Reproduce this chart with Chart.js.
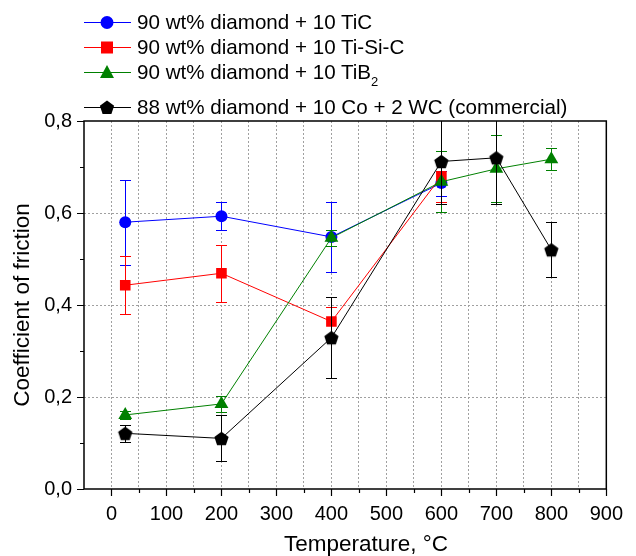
<!DOCTYPE html>
<html><head><meta charset="utf-8">
<script src="https://cdn.jsdelivr.net/npm/chart.js@4.4.1/dist/chart.umd.min.js"></script>
<style>
html,body{margin:0;padding:0;background:#fff;}
#wrap{position:relative;width:636px;height:556px;overflow:hidden;font-family:"Liberation Sans",Arial,sans-serif;}
#c{position:absolute;left:0;top:0;}
#sym{position:absolute;left:0;top:0;}
.row{position:absolute;left:137px;height:24px;line-height:24px;font-size:20.6px;color:#000;white-space:nowrap;}
.row sub{font-size:13px;vertical-align:-7px;line-height:0;}
#xtitle{position:absolute;left:166px;width:400px;top:531px;height:26px;line-height:26px;font-size:22.5px;text-align:center;color:#000;white-space:nowrap;}
</style></head>
<body><div id="wrap"><canvas id="c" width="636" height="556"></canvas><svg id="sym" width="636" height="125"></svg><div id="xtitle"></div></div>
<script>
// ---- data ----
const seriesNames = [
  '90 wt% diamond + 10 TiC',
  '90 wt% diamond + 10 Ti-Si-C',
  '90 wt% diamond + 10 TiB<sub>2</sub>',
  '88 wt% diamond + 10 Co + 2 WC (commercial)'
];
const xAxisTitle = 'Temperature, °C';
const yAxisTitle = 'Coefficient of friction';
const tempsShort = [25, 200, 400, 600];
const tempsLong = [25, 200, 400, 600, 700, 800];
const ticValues = [0.580, 0.593, 0.548, 0.665];
const ticErrors = [0.092, 0.031, 0.076, 0.027];
const tisicValues = [0.443, 0.469, 0.364, 0.680];
const tisicErrors = [0.063, 0.062, 0.032, 0.055];
const tib2Values = [0.161, 0.185, 0.546, 0.668, 0.696, 0.717];
const tib2Errors = [0.008, 0.017, 0.018, 0.066, 0.073, 0.024];
const commValues = [0.121, 0.110, 0.329, 0.712, 0.720, 0.520];
const commErrors = [0.019, 0.050, 0.088, 0.092, 0.100, 0.060];
const xTickLabels = ['0','100','200','300','400','500','600','700','800','900'];
const yTickLabels = ['0,0','0,2','0,4','0,6','0,8'];

const FONT = '"Liberation Sans", Arial, sans-serif';
const colors = ['#0000ff', '#ff0000', '#008000', '#000000'];

function pentagonCanvas(r, color) {
  const s = Math.ceil(2 * r + 2);
  const c = document.createElement('canvas');
  c.width = s; c.height = s;
  const g = c.getContext('2d');
  g.fillStyle = color;
  g.beginPath();
  const cx = s / 2, cy = s / 2 + r * 0.1;
  for (let i = 0; i < 5; i++) {
    const a = -Math.PI / 2 + i * 2 * Math.PI / 5;
    const px = cx + r * Math.cos(a), py = cy + r * Math.sin(a);
    if (i) g.lineTo(px, py); else g.moveTo(px, py);
  }
  g.closePath(); g.fill();
  return c;
}
const pent = pentagonCanvas(7.5, '#000');

function pts(xs, ys) { return xs.map((x, i) => ({x: x, y: ys[i]})); }

function mk(label, xs, ys, errs, color, style, radius, order) {
  return {
    label: label, data: pts(xs, ys), errors: errs,
    borderColor: color, backgroundColor: color, borderWidth: 1,
    pointStyle: style, pointRadius: radius, pointHoverRadius: radius,
    pointBackgroundColor: color, pointBorderColor: color, pointBorderWidth: 0,
    tension: 0, fill: false, order: order
  };
}

const errPlugin = {
  id: 'errbars',
  beforeDatasetDraw(chart, args) {
    const ds = chart.data.datasets[args.index];
    const {ctx, chartArea: a, scales: {x, y}} = chart;
    ctx.save();
    ctx.beginPath();
    ctx.rect(a.left, a.top, a.right - a.left, a.bottom - a.top);
    ctx.clip();
    ctx.strokeStyle = ds.borderColor;
    ctx.lineWidth = 1;
    ds.data.forEach((p, i) => {
      const e = ds.errors[i];
      const px = Math.round(x.getPixelForValue(p.x)) + 0.5;
      const yt = Math.round(y.getPixelForValue(p.y + e)) + 0.5;
      const yb = Math.round(y.getPixelForValue(p.y - e)) + 0.5;
      ctx.beginPath();
      ctx.moveTo(px, yt); ctx.lineTo(px, yb);
      ctx.moveTo(px - 5.5, yt); ctx.lineTo(px + 5.5, yt);
      ctx.moveTo(px - 5.5, yb); ctx.lineTo(px + 5.5, yb);
      ctx.stroke();
    });
    ctx.restore();
  }
};

const framePlugin = {
  id: 'frame',
  afterDraw(chart) {
    const {ctx, chartArea: a, scales: {x, y}} = chart;
    ctx.save();
    ctx.strokeStyle = '#000';
    ctx.lineWidth = 1.5;
    ctx.strokeRect(a.left, a.top, a.right - a.left, a.bottom - a.top);
    ctx.lineWidth = 1.2;
    ctx.beginPath();
    x.ticks.forEach(t => {
      if (t.value < 0) return;
      const px = Math.round(x.getPixelForValue(t.value)) + 0.5;
      const len = (t.value % 100 === 0) ? 7 : 4;
      ctx.moveTo(px, a.bottom); ctx.lineTo(px, a.bottom + len);
    });
    y.ticks.forEach(t => {
      const py = Math.round(y.getPixelForValue(t.value)) + 0.5;
      const len = (Math.round(t.value * 10) % 2 === 0) ? 7 : 4;
      ctx.moveTo(a.left, py); ctx.lineTo(a.left - len, py);
    });
    ctx.stroke();
    ctx.restore();
  }
};

const ctx = document.getElementById('c').getContext('2d');
const chart = new Chart(ctx, {
  type: 'line',
  data: {
    datasets: [
      mk('90 wt% diamond + 10 TiC', tempsShort, ticValues, ticErrors, colors[0], 'circle', 6, 4),
      mk('90 wt% diamond + 10 Ti-Si-C', tempsShort, tisicValues, tisicErrors, colors[1], 'rect', 7.5, 3),
      mk('90 wt% diamond + 10 TiB2', tempsLong, tib2Values, tib2Errors, colors[2], 'triangle', 8, 2),
      mk('88 wt% diamond + 10 Co + 2 WC (commercial)', tempsLong, commValues, commErrors, colors[3], pent, 7.5, 1)
    ]
  },
  options: {
    responsive: false, animation: false, devicePixelRatio: 1,
    layout: {padding: {left: 0, right: 19, top: 121, bottom: 0}},
    plugins: {legend: {display: false}, tooltip: {enabled: false}},
    scales: {
      x: {
        type: 'linear', min: -50, max: 900,
        afterFit(s) { s.height = 67; },
        ticks: {
          stepSize: 50, autoSkip: false, maxRotation: 0, padding: 13,
          color: '#000', font: {size: 20, family: FONT},
          callback: (v) => { const i = xTickLabels.indexOf(String(v)); return (v >= 0 && v % 100 === 0 && i >= 0) ? xTickLabels[i] : ''; }
        },
        grid: {
          drawTicks: false, lineWidth: 1, borderDash: [2, 2],
          color: (c) => (c.tick && c.tick.value > -50 && c.tick.value < 900) ? '#a0a0a0' : 'rgba(0,0,0,0)'
        },
        border: {display: false, dash: [2, 2]},
        title: {display: false}
      },
      y: {
        type: 'linear', min: 0, max: 0.8,
        afterFit(s) { s.width = 84; },
        ticks: {
          stepSize: 0.1, autoSkip: false, padding: 12,
          color: '#000', font: {size: 20, family: FONT},
          callback: (v) => { const k = Math.round(v * 10); return (k % 2 === 0) ? yTickLabels[k / 2] : ''; }
        },
        grid: {
          drawTicks: false, lineWidth: 1, borderDash: [2, 2],
          color: (c) => { if (!c.tick) return 'rgba(0,0,0,0)'; const k = Math.round(c.tick.value * 10); return (k % 2 === 0 && k > 0 && k < 8) ? '#a0a0a0' : 'rgba(0,0,0,0)'; }
        },
        border: {display: false, dash: [2, 2]},
        title: {display: true, text: yAxisTitle, color: '#000', font: {size: 22.5, family: FONT}, padding: {top: 9, bottom: 0}}
      }
    }
  },
  plugins: [errPlugin, framePlugin]
});

document.getElementById('xtitle').textContent = xAxisTitle;

// ---- legend (HTML text + SVG symbols) ----
const rowCenters = [22, 47, 72, 107];
const wrap = document.getElementById('wrap');
const svg = document.getElementById('sym');
const NS = 'http://www.w3.org/2000/svg';
function el(name, attrs) { const e = document.createElementNS(NS, name); for (const k in attrs) e.setAttribute(k, attrs[k]); svg.appendChild(e); return e; }
seriesNames.forEach((name, i) => {
  const cy = rowCenters[i], cx = 107, col = colors[i];
  el('line', {x1: 84, y1: cy + 0.5, x2: 131, y2: cy + 0.5, stroke: col, 'stroke-width': 1});
  if (i === 0) el('circle', {cx: cx, cy: cy + 0.5, r: 6.5, fill: col});
  else if (i === 1) el('rect', {x: cx - 6, y: cy - 5.5, width: 12, height: 12, fill: col});
  else if (i === 2) el('polygon', {points: `${cx - 7},${cy + 6} ${cx + 7},${cy + 6} ${cx},${cy - 7}`, fill: col});
  else {
    const r = 7.5, p = [];
    for (let k = 0; k < 5; k++) { const a = -Math.PI / 2 + k * 2 * Math.PI / 5; p.push((cx + r * Math.cos(a)).toFixed(2) + ',' + (cy + 1 + r * Math.sin(a)).toFixed(2)); }
    el('polygon', {points: p.join(' '), fill: col});
  }
  const d = document.createElement('div');
  d.className = 'row';
  d.style.top = (cy - 12) + 'px';
  d.innerHTML = name;
  wrap.appendChild(d);
});
</script>
</body></html>
